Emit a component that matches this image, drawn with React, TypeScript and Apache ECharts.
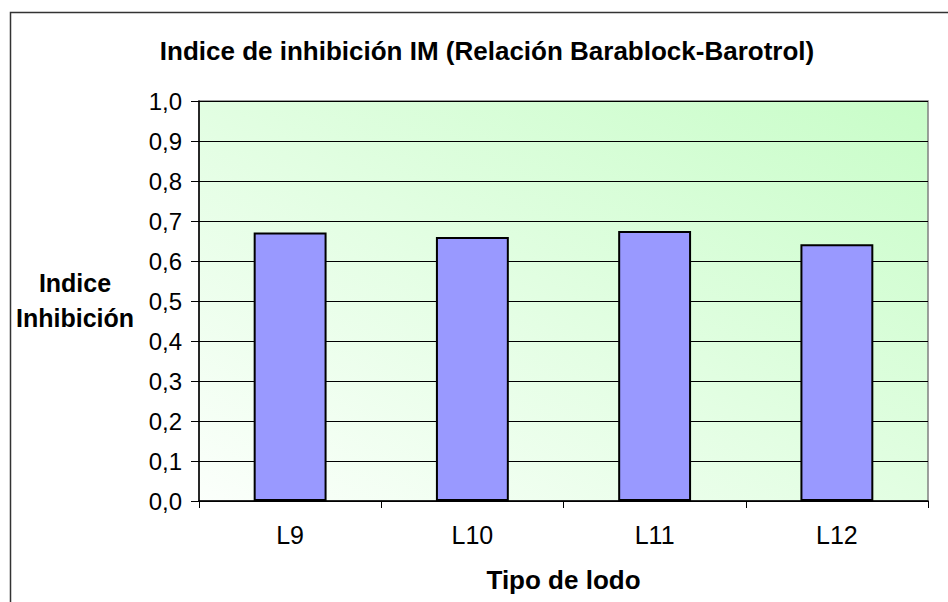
import React, { useEffect, useRef } from "react";
import * as echarts from "echarts";

const categories = ["L9", "L10", "L11", "L12"];
const values = [0.671, 0.66, 0.675, 0.642];
const yTicks = [0, 0.1, 0.2, 0.3, 0.4, 0.5, 0.6, 0.7, 0.8, 0.9, 1.0];
const titleText = "Indice de inhibición IM (Relación Barablock-Barotrol)";
const yName = "Indice\nInhibición";
const xName = "Tipo de lodo";

export default function App() {
  const ref = useRef<HTMLDivElement>(null);
  useEffect(() => {
    if (!ref.current) return;
    const chart = echarts.init(ref.current, null, { renderer: "svg" });
    const font = "Liberation Sans, Arial, sans-serif";
    chart.setOption({
      animation: false,
      backgroundColor: "#ffffff",
      title: {
        text: titleText,
        left: 482,
        top: 33,
        textAlign: "center",
        textStyle: { fontFamily: font, fontSize: 26, fontWeight: "bold", color: "#000" },
      },
      graphic: [
        {
          type: "rect",
          shape: { x: 10.5, y: 12.5, width: 1200, height: 1200 },
          style: { fill: "none", stroke: "#333", lineWidth: 1.5 },
          silent: true,
        },
        {
          type: "text",
          x: 75,
          y: 300,
          style: {
            text: yName,
            fontFamily: font,
            fontSize: 25,
            fontWeight: "bold",
            fill: "#000",
            align: "center",
            verticalAlign: "middle",
            lineHeight: 35,
          },
        },
      ],
      grid: {
        left: 199,
        right: 20,
        top: 101,
        bottom: 101,
        show: true,
        borderColor: "#808080",
        borderWidth: 1.5,
        backgroundColor: {
          type: "linear",
          x: 0,
          y: 1,
          x2: 1,
          y2: 0,
          colorStops: [
            { offset: 0, color: "#fbfffb" },
            { offset: 1, color: "#c8fdc8" },
          ],
        },
      },
      xAxis: {
        type: "category",
        data: categories,
        name: xName,
        nameLocation: "middle",
        nameGap: 66,
        nameTextStyle: { fontFamily: font, fontSize: 26, fontWeight: "bold", color: "#000" },
        axisLine: { show: true, lineStyle: { color: "#000", width: 1.5 } },
        axisTick: { show: true, length: 7, lineStyle: { color: "#000" } },
        axisLabel: { fontFamily: font, fontSize: 25, color: "#000", margin: 21 },
        splitLine: { show: false },
      },
      yAxis: {
        type: "value",
        min: 0,
        max: 1,
        interval: 0.1,
        axisLine: { show: true, lineStyle: { color: "#000", width: 1.5 } },
        axisTick: { show: true, length: 8, lineStyle: { color: "#000" } },
        axisLabel: {
          fontFamily: font,
          fontSize: 24,
          color: "#000",
          margin: 17,
          formatter: (v: number) => {
            const t = yTicks.find((x) => Math.abs(x - v) < 1e-6);
            return (t !== undefined ? t : v).toFixed(1).replace(".", ",");
          },
        },
        splitLine: { show: true, lineStyle: { color: "#000", width: 1 } },
      },
      series: [
        {
          type: "bar",
          data: values,
          barWidth: "40%",
          itemStyle: { color: "#9999ff", borderColor: "#000", borderWidth: 2 },
        },
      ],
    });
    return () => chart.dispose();
  }, []);
  return (
    <div
      ref={ref}
      style={{ position: "fixed", left: 0, top: 0, width: 948, height: 602 }}
    />
  );
}
